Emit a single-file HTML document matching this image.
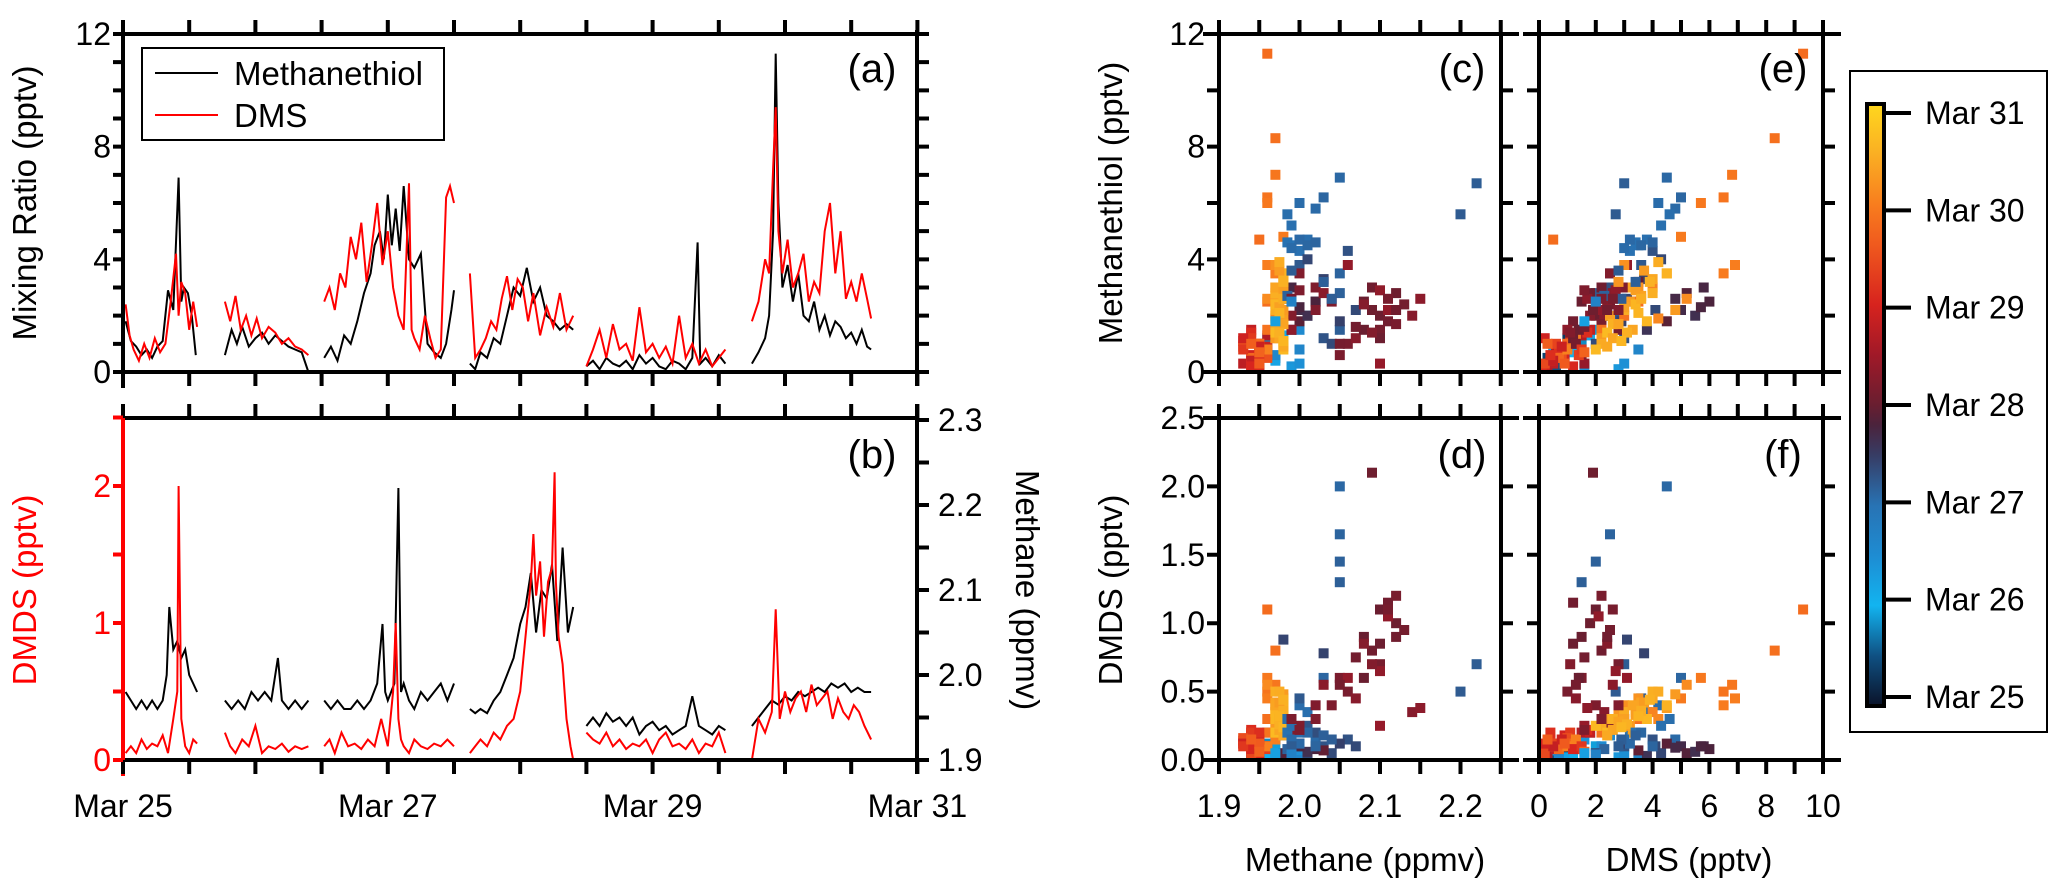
<!DOCTYPE html>
<html><head><meta charset="utf-8"><style>
html,body{margin:0;padding:0;background:#fff;}
svg{display:block;font-family:"Liberation Sans",sans-serif;}
</style></head><body>
<svg id="chart" width="2067" height="891" viewBox="0 0 2067 891" xmlns="http://www.w3.org/2000/svg">
<g id="g-a"></g>
<g id="g-b"></g>
<g id="g-s"></g>
<g id="g-cb"></g>
</svg>
<script>
// ---------- time series data (t = days since Mar 25) ----------
const meshT=[0.02,0.06,0.1,0.14,0.18,0.22,0.26,0.3,0.34,0.38,0.42,0.44,0.46,0.49,0.52,0.55,null,
0.77,0.82,0.86,0.9,0.95,1.0,1.05,1.1,1.15,1.2,1.25,1.3,1.35,1.4,null,
1.52,1.57,1.62,1.67,1.72,1.77,1.82,1.87,1.9,1.94,1.97,2.0,2.03,2.06,2.09,2.12,2.16,2.2,2.25,2.3,2.35,2.4,2.44,2.48,2.5,null,
2.62,2.66,2.7,2.75,2.8,2.85,2.9,2.95,3.0,3.05,3.1,3.15,3.2,3.25,3.3,3.35,3.4,null,
3.5,3.55,3.6,3.65,3.7,3.75,3.8,3.85,3.9,3.95,4.0,4.05,4.1,4.15,4.2,4.25,4.3,4.34,4.36,4.4,4.45,4.5,4.55,null,
4.75,4.8,4.85,4.88,4.91,4.93,4.95,4.98,5.02,5.06,5.1,5.14,5.18,5.22,5.26,5.3,5.34,5.38,5.42,5.46,5.5,5.54,5.58,5.62,5.65];
const meshV=[1.8,1.1,0.9,0.6,0.8,0.5,0.9,1.1,2.9,2.2,6.9,2.5,3.0,2.8,2.0,0.6,null,
0.6,1.5,1.0,1.6,0.9,1.2,1.4,1.0,1.3,1.1,0.9,0.8,0.7,0.0,null,
0.5,0.9,0.4,1.3,1.0,1.8,2.8,3.5,4.5,5.0,4.0,6.3,4.5,5.8,4.3,6.6,4.0,3.7,4.2,1.0,0.7,0.5,1.0,2.2,2.9,null,
0.3,0.1,0.7,0.5,1.2,1.0,2.0,3.0,2.7,3.7,2.5,3.0,2.0,1.8,1.5,1.7,1.5,null,
0.2,0.4,0.1,0.5,0.3,0.2,0.4,0.1,0.6,0.3,0.5,0.2,0.1,0.4,0.3,0.1,0.5,4.6,0.3,0.5,0.2,0.6,0.3,null,
0.3,0.7,1.2,2.0,5.0,11.3,6.0,3.0,3.8,2.5,3.5,2.0,1.8,2.5,1.5,2.0,1.3,1.8,1.6,1.2,1.4,1.0,1.5,0.9,0.8];
const dmsT=[0.02,0.05,0.08,0.12,0.16,0.2,0.24,0.28,0.32,0.36,0.4,0.42,0.44,0.47,0.5,0.53,0.56,null,
0.77,0.81,0.85,0.89,0.93,0.97,1.01,1.05,1.1,1.15,1.2,1.25,1.3,1.35,1.4,null,
1.52,1.56,1.6,1.64,1.68,1.72,1.76,1.8,1.84,1.88,1.92,1.96,2.0,2.04,2.08,2.12,2.16,2.18,2.2,2.24,2.28,2.32,2.36,2.4,2.44,2.47,2.5,null,
2.62,2.66,2.7,2.74,2.78,2.82,2.86,2.9,2.94,2.98,3.02,3.06,3.1,3.15,3.2,3.25,3.3,3.35,3.4,null,
3.5,3.55,3.6,3.65,3.7,3.75,3.8,3.85,3.9,3.95,4.0,4.05,4.1,4.15,4.2,4.25,4.3,4.35,4.4,4.45,4.5,4.55,null,
4.75,4.8,4.85,4.88,4.91,4.93,4.95,4.98,5.02,5.06,5.1,5.14,5.18,5.22,5.26,5.3,5.34,5.38,5.42,5.46,5.5,5.54,5.58,5.62,5.65];
const dmsV=[2.4,1.3,0.8,0.4,1.0,0.5,1.2,0.7,1.0,2.5,4.2,2.0,3.2,2.8,1.5,2.5,1.6,null,
2.5,1.8,2.7,1.5,2.0,1.3,1.9,1.2,1.6,1.4,1.0,1.2,0.9,0.8,0.6,null,
2.5,3.0,2.2,3.5,3.0,4.8,4.0,5.3,3.2,4.5,6.0,3.8,5.0,3.0,2.0,1.5,6.7,1.5,1.2,0.8,2.0,1.2,0.5,0.8,6.2,6.6,6.0,null,
3.5,0.5,0.8,1.2,1.8,1.5,2.6,3.4,2.2,3.3,3.0,1.8,2.8,1.3,2.3,1.6,2.8,1.5,2.0,null,
0.2,0.8,1.5,0.5,1.7,0.8,1.0,0.4,2.3,0.7,1.0,0.5,0.9,0.3,2.0,0.5,1.0,0.3,0.8,0.2,0.5,0.8,null,
1.8,2.5,4.0,3.5,7.2,9.4,5.0,3.5,4.7,3.0,3.5,4.2,2.5,3.2,2.8,5.0,6.0,3.5,5.0,2.6,3.2,2.5,3.5,2.6,1.9];
const dmdsT=[0.02,0.06,0.1,0.14,0.18,0.22,0.26,0.3,0.34,0.38,0.41,0.42,0.44,0.47,0.5,0.53,0.56,null,
0.77,0.81,0.85,0.9,0.95,1.0,1.05,1.1,1.15,1.2,1.25,1.3,1.35,1.4,null,
1.52,1.56,1.6,1.65,1.7,1.75,1.8,1.85,1.9,1.95,2.0,2.04,2.06,2.08,2.1,2.12,2.16,2.2,2.25,2.3,2.35,2.4,2.45,2.5,null,
2.62,2.66,2.7,2.75,2.8,2.85,2.9,2.95,3.0,3.04,3.08,3.1,3.12,3.15,3.18,3.21,3.24,3.26,3.27,3.29,3.32,3.35,3.38,3.4,null,
3.5,3.55,3.6,3.65,3.7,3.75,3.8,3.85,3.9,3.95,4.0,4.05,4.1,4.15,4.2,4.25,4.3,4.35,4.4,4.45,4.5,4.55,null,
4.75,4.8,4.85,4.9,4.93,4.96,5.0,5.04,5.08,5.12,5.16,5.2,5.24,5.28,5.32,5.36,5.4,5.44,5.48,5.52,5.56,5.6,5.65];
const dmdsV=[0.05,0.1,0.05,0.15,0.08,0.12,0.1,0.18,0.05,0.3,0.5,2.0,0.3,0.1,0.05,0.15,0.12,null,
0.2,0.1,0.05,0.15,0.1,0.25,0.05,0.1,0.08,0.12,0.06,0.1,0.08,0.1,null,
0.1,0.15,0.05,0.2,0.1,0.12,0.08,0.15,0.1,0.3,0.1,0.5,1.0,0.3,0.15,0.1,0.05,0.15,0.1,0.08,0.12,0.1,0.15,0.1,null,
0.05,0.1,0.15,0.1,0.2,0.15,0.25,0.3,0.5,0.9,1.3,1.65,1.2,1.45,0.9,1.3,1.4,2.1,1.3,0.9,0.7,0.3,0.1,0.0,null,
0.2,0.15,0.12,0.2,0.1,0.15,0.08,0.12,0.1,0.15,0.05,0.15,0.2,0.1,0.12,0.08,0.15,0.05,0.12,0.1,0.2,0.05,null,
0.0,0.3,0.2,0.35,1.1,0.3,0.5,0.35,0.45,0.5,0.35,0.55,0.4,0.45,0.5,0.3,0.45,0.35,0.3,0.4,0.35,0.25,0.15];
const ch4T=[0.02,0.06,0.1,0.14,0.18,0.22,0.26,0.3,0.33,0.35,0.38,0.41,0.44,0.47,0.5,0.53,0.56,null,
0.77,0.82,0.87,0.92,0.97,1.02,1.07,1.12,1.17,1.2,1.25,1.3,1.35,1.4,null,
1.52,1.57,1.62,1.67,1.72,1.77,1.82,1.87,1.92,1.96,1.98,2.0,2.05,2.08,2.1,2.12,2.16,2.2,2.25,2.3,2.35,2.4,2.45,2.5,null,
2.62,2.66,2.7,2.75,2.8,2.85,2.9,2.95,3.0,3.04,3.08,3.12,3.16,3.2,3.24,3.28,3.32,3.36,3.4,null,
3.5,3.55,3.6,3.65,3.7,3.75,3.8,3.85,3.9,3.95,4.0,4.05,4.1,4.15,4.2,4.25,4.3,4.35,4.4,4.45,4.5,4.55,null,
4.75,4.8,4.85,4.9,4.95,5.0,5.05,5.1,5.15,5.2,5.25,5.3,5.35,5.4,5.45,5.5,5.55,5.6,5.65];
const ch4V=[1.98,1.97,1.96,1.97,1.96,1.97,1.96,1.97,2.0,2.08,2.03,2.04,2.02,2.03,2.0,1.99,1.98,null,
1.97,1.96,1.97,1.96,1.98,1.97,1.98,1.97,2.02,1.97,1.96,1.97,1.96,1.97,null,
1.97,1.96,1.97,1.96,1.96,1.97,1.96,1.97,1.99,2.06,1.98,1.97,1.99,2.22,1.98,1.99,1.97,1.96,1.98,1.97,1.98,1.99,1.97,1.99,null,
1.96,1.955,1.96,1.955,1.97,1.98,2.0,2.02,2.06,2.08,2.12,2.05,2.1,2.09,2.13,2.04,2.15,2.05,2.08,null,
1.94,1.95,1.94,1.955,1.945,1.95,1.94,1.95,1.93,1.94,1.945,1.935,1.94,1.93,1.935,1.94,1.975,1.94,1.935,1.93,1.94,1.935,null,
1.94,1.95,1.96,1.97,1.965,1.975,1.97,1.98,1.975,1.98,1.985,1.98,1.99,1.985,1.99,1.98,1.985,1.98,1.98];
const dayTicks=["Mar 25","Mar 27","Mar 29","Mar 31"];
const ticksA=[0,4,8,12];
const ticksDMDS=[0,1,2];
const ticksCH4=[1.9,2.0,2.1,2.2,2.3];

const NS="http://www.w3.org/2000/svg";
const FT=32;
function mk(tag,attrs,parent){const e=document.createElementNS(NS,tag);for(const k in attrs)e.setAttribute(k,attrs[k]);parent.appendChild(e);return e;}
function txt(s,x,y,size,anchor,parent,fill,rot){const e=mk('text',{x:x,y:y,'font-size':size,'text-anchor':anchor,fill:fill||'#000'},parent);if(rot!==undefined)e.setAttribute('transform','rotate('+rot+' '+x+' '+y+')');e.textContent=s;return e;}

const TX0=123,TXD=132.4;
const tx=t=>TX0+TXD*t;
const ya=v=>372-v*(338/12);
const yb=v=>760-137*v;
const ym=m=>760-(m-1.9)*850;
const XR=917;

function pathFrom(T,V,xf,yf){let d='',pen=false;for(let i=0;i<T.length;i++){if(T[i]===null||V[i]===null){pen=false;continue;}d+=(pen?'L':'M')+xf(T[i]).toFixed(1)+' '+yf(V[i]).toFixed(1);pen=true;}return d;}

// ---------- panel a ----------
const ga=document.getElementById('g-a');
let p=mk('path',{d:pathFrom(meshT,meshV,tx,ya),fill:'none',stroke:'#000','stroke-width':2},ga);

p=mk('path',{d:pathFrom(dmsT,dmsV,tx,ya),fill:'none',stroke:'#f00','stroke-width':2},ga);

mk('path',{d:`M${TX0} 34H${XR}M${TX0} 372H${XR+12}M${TX0} 30V388M${XR} 30V386`,stroke:'#000','stroke-width':4,fill:'none'},ga);
let tk='';
for(let h=0;h<=12;h++){const x=tx(h/2);tk+=`M${x} 34V20M${x} 372V386`;}
for(let v=0;v<=12;v++){tk+=`M${TX0} ${ya(v)}H${TX0-10}M${XR} ${ya(v)}H${XR+12}`;}
mk('path',{d:tk,stroke:'#000','stroke-width':4},ga);
ticksA.forEach(v=>{const t=txt(String(v),TX0-12,ya(v)+11,FT,'end',ga);});
let ttl=txt('Mixing Ratio (pptv)',36,203,33,'middle',ga,'#000',-90);

let lab=txt('(a)',872,82,40,'middle',ga);
const lg=mk('g',{},ga);
mk('rect',{x:142,y:48,width:302,height:92,fill:'#fff',stroke:'#000','stroke-width':2},lg);
let le=mk('line',{x1:155,y1:73,x2:218,y2:73,stroke:'#000','stroke-width':2},lg);
le=txt('Methanethiol',234,85,33,'start',lg);
le=mk('line',{x1:155,y1:115,x2:218,y2:115,stroke:'#f00','stroke-width':2},lg);
le=txt('DMS',234,127,33,'start',lg);

// ---------- panel b ----------
const gb=document.getElementById('g-b');
p=mk('path',{d:pathFrom(ch4T,ch4V,tx,ym),fill:'none',stroke:'#000','stroke-width':2},gb);

p=mk('path',{d:pathFrom(dmdsT,dmdsV,tx,yb),fill:'none',stroke:'#f00','stroke-width':2},gb);

mk('path',{d:`M${TX0} 418H${XR}M${TX0} 760H${XR+12}M${XR} 404V774`,stroke:'#000','stroke-width':4,fill:'none'},gb);
mk('path',{d:`M${TX0} 418V776`,stroke:'#f00','stroke-width':4},gb);
tk='';
for(let h=0;h<=12;h++){const x=tx(h/2);tk+=`M${x} 418V404M${x} 760V774`;}
for(let m=0;m<=8;m++){tk+=`M${XR} ${ym(1.9+m*0.05)}H${XR+12}`;}
mk('path',{d:tk,stroke:'#000','stroke-width':4},gb);
tk='';for(let v=0;v<=5;v++){tk+=`M${TX0} ${yb(v/2)}H${TX0-10}`;}
mk('path',{d:tk,stroke:'#f00','stroke-width':4},gb);
ticksDMDS.forEach(v=>{const t=txt(String(v),TX0-12,yb(v)+11,FT,'end',gb,'#f00');});
ticksCH4.forEach(v=>{const t=txt(v.toFixed(1),938,ym(v)+11,FT,'start',gb);});
dayTicks.forEach((s,i)=>{const t=txt(s,tx(i*2),817,FT,'middle',gb);});
ttl=txt('DMDS (pptv)',36,590,33,'middle',gb,'#f00',-90);
ttl=txt('Methane (ppmv)',1016,590,33,'middle',gb,'#000',90);
lab=txt('(b)',872,468,40,'middle',gb);
</script>
<script>
// ---------- scatter data: one record per observation ----------
const sDay=[0.1,0.2,0.3,0.4,0.5,0.8,0.9,1.0,1.1,1.2,1.3,1.4,1.5,1.55,1.6,1.35,1.45,1.65,
2.0,2.02,2.04,2.06,2.08,2.1,2.12,2.14,2.16,2.18,2.2,2.22,2.24,2.26,2.28,2.3,2.32,2.34,2.36,2.38,2.4,2.42,2.44,2.46,
2.6,2.7,2.75,2.8,2.85,2.9,2.95,2.65,2.72,2.78,
3.0,3.02,3.04,3.06,3.08,3.1,3.12,3.14,3.16,3.18,3.2,3.22,3.24,3.26,3.28,3.3,3.32,3.34,3.36,3.38,3.4,3.05,3.15,3.25,3.35,
3.5,3.55,3.6,3.65,3.7,3.75,3.8,3.85,3.9,3.95,4.0,4.05,4.1,4.15,4.2,4.25,4.3,4.35,4.4,4.45,4.5,
4.75,4.78,4.8,4.82,4.84,4.85,4.86,4.88,4.9,4.92,4.94,4.96,4.98,5.0,5.02,5.04,5.06,
5.1,5.15,5.2,5.22,5.25,5.28,5.3,5.32,5.35,5.38,5.4,5.42,5.45,5.48,5.5,5.52,5.55,5.58,5.6,5.62,5.64,5.3,5.4,
5.31,5.33,5.36,5.39,5.41,5.44,5.47,5.49,5.51,5.53,5.56,5.59,
2.01,2.03,2.05,2.07,2.09,2.11,2.13,2.15,2.17,2.19,2.21,
3.01,3.03,3.07,3.09,3.11,3.13,3.17,3.19,3.21,3.23,
3.82,3.88,3.92,4.02,4.12,4.22,4.6,4.65,4.7,1.25,1.7];
const sCH4=[1.94,1.95,1.96,1.97,1.95,1.96,1.97,1.96,1.98,1.97,1.95,1.99,1.98,2.0,1.97,1.99,2.0,2.0,
1.99,2.0,2.01,2.0,2.02,2.05,2.03,2.05,2.05,2.05,2.22,2.2,2.0,2.01,2.03,2.06,1.99,2.02,2.04,2.07,2.01,1.98,2.03,2.05,
1.99,2.0,1.99,2.02,1.98,2.0,2.03,2.01,1.99,2.0,
2.08,2.1,2.12,2.09,2.11,2.13,2.1,2.06,2.05,2.04,2.02,2.0,1.99,2.14,2.07,2.03,2.15,1.99,2.11,2.06,2.1,2.09,2.12,2.08,2.1,
1.94,1.95,1.94,1.96,1.95,1.93,1.94,1.96,1.95,1.94,1.93,1.95,1.94,1.96,1.95,1.94,1.96,1.95,1.94,1.93,1.96,
1.94,1.95,1.96,1.95,1.96,1.97,1.97,1.96,1.96,1.97,1.96,1.98,1.97,1.96,1.97,1.96,1.97,
1.97,1.96,1.97,1.98,1.98,1.97,1.97,1.98,1.98,1.97,1.97,1.98,1.98,1.97,1.97,1.98,1.98,1.97,1.97,1.98,1.97,1.98,1.97,
1.975,1.98,1.975,1.98,1.975,1.98,1.975,1.98,1.975,1.98,1.975,1.98,
1.985,1.99,1.985,1.99,2.0,2.01,2.02,1.985,2.03,2.04,1.99,
2.08,2.1,2.12,2.07,2.05,2.11,1.99,2.0,2.02,2.09,
1.94,1.95,1.93,1.94,1.95,1.93,1.95,1.94,1.95,1.97,1.99];
const sMeSH=[0.3,0.8,1.2,0.5,0.2,1.0,1.5,0.7,1.3,0.4,0.9,0.2,2.0,1.5,0.6,0.1,0.3,0.8,
4.5,4.3,4.7,6.0,5.8,6.9,6.2,3.5,2.8,1.5,6.7,5.6,3.8,2.0,1.2,4.3,3.0,2.5,1.0,2.2,4.0,2.6,3.3,1.8,
1.5,2.2,3.0,2.5,2.8,1.8,3.2,2.0,2.6,2.3,
2.5,2.0,2.8,3.0,1.8,2.4,1.5,1.0,0.6,2.5,3.0,3.5,2.0,2.0,1.2,2.8,2.6,1.5,2.2,3.8,0.3,2.2,1.7,2.4,2.9,
0.5,1.0,0.2,1.3,0.7,0.3,1.5,0.9,0.1,0.6,1.1,0.0,1.4,0.8,0.4,1.2,0.6,1.0,0.3,0.9,0.5,
0.5,1.0,11.3,4.7,2.5,8.3,2.0,1.5,6.2,7.0,6.0,4.8,3.5,3.8,1.2,0.8,3.0,
1.9,2.6,3.8,3.0,3.2,1.2,2.5,3.5,2.0,2.7,1.5,3.3,1.0,2.2,2.8,1.7,3.5,2.4,1.8,0.8,1.4,2.2,3.0,
3.6,2.9,2.3,1.7,1.2,0.9,3.9,2.6,1.4,3.2,2.1,1.1,
4.6,5.2,5.6,4.4,4.7,4.5,4.6,2.7,3.2,2.6,3.6,
1.5,1.2,2.2,1.6,1.0,2.6,2.6,2.9,2.2,1.4,
0.4,0.9,1.2,0.2,0.6,0.8,0.3,1.0,0.7,1.8,2.5];
const sDMS=[0.4,0.8,1.0,0.3,0.6,1.5,2.0,1.2,1.8,0.9,0.5,1.6,2.5,2.2,0.7,2.8,3.0,3.5,
3.5,3.2,3.8,4.2,4.8,4.5,5.0,2.5,2.0,1.5,3.0,2.7,3.6,2.8,3.0,4.0,2.5,3.3,2.0,4.1,4.3,3.1,3.7,2.9,
3.8,5.0,5.8,6.0,5.2,4.5,3.5,5.5,4.8,5.7,
1.5,2.0,1.8,2.2,1.2,2.5,2.8,1.0,1.5,2.0,3.0,2.5,1.8,2.3,1.3,2.6,1.7,1.0,2.1,3.1,1.6,1.9,2.2,2.4,2.7,
0.8,1.2,0.3,1.5,0.6,0.5,1.8,1.0,0.2,0.9,1.3,0.1,1.7,0.7,0.4,1.1,1.4,0.6,0.2,1.0,0.8,
0.7,1.0,9.3,0.5,3.5,8.3,3.0,2.2,6.5,6.8,5.7,5.0,6.5,6.9,1.3,1.0,4.0,
4.2,5.2,3.0,3.5,2.8,2.2,3.2,4.5,2.5,3.6,3.3,4.0,2.2,3.0,4.0,2.6,4.5,3.4,3.8,2.0,2.4,4.8,3.3,
3.7,3.4,3.0,2.8,2.6,2.4,4.2,3.6,3.1,3.9,3.5,2.9,
3.4,4.3,4.6,3.0,3.2,3.6,4.0,2.3,3.4,2.9,2.8,
1.4,1.2,2.4,1.6,1.3,2.6,2.2,1.6,2.8,1.1,
0.5,0.8,0.2,1.2,0.4,1.5,0.9,0.3,1.6,1.6,2.0];
const sDMDS=[0.05,0.1,0.08,0.15,0.03,0.12,0.1,0.05,0.2,0.02,0.07,0.15,0.18,0.1,0.04,0.02,0.05,0.0,
0.3,0.2,0.35,0.4,0.15,2.0,0.6,1.65,1.45,1.3,0.7,0.5,0.45,0.25,0.1,0.15,0.3,0.2,0.05,0.1,0.05,0.88,0.78,0.12,
0.03,0.1,0.1,0.08,0.05,0.12,0.07,0.06,0.09,0.1,
0.9,1.1,1.0,0.8,1.15,0.95,0.7,0.5,0.6,0.4,0.3,0.25,0.2,0.35,0.45,0.55,0.38,0.15,1.05,0.6,0.25,2.1,1.2,0.85,0.65,
0.1,0.15,0.05,0.2,0.08,0.12,0.2,0.1,0.05,0.18,0.14,0.0,0.22,0.1,0.15,0.2,0.08,0.12,0.05,0.16,0.1,
0.08,0.12,1.1,0.1,0.3,0.8,0.25,0.2,0.5,0.55,0.6,0.45,0.4,0.45,0.15,0.1,0.35,
0.3,0.55,0.4,0.45,0.35,0.3,0.25,0.38,0.3,0.42,0.2,0.45,0.25,0.35,0.5,0.3,0.4,0.35,0.3,0.25,0.2,0.48,0.4,
0.42,0.33,0.3,0.28,0.22,0.18,0.5,0.36,0.26,0.44,0.32,0.24,
0.2,0.25,0.3,0.15,0.12,0.2,0.1,0.08,0.18,0.15,0.1,
0.6,0.85,0.9,0.75,0.55,1.1,0.3,0.22,0.4,0.7,
0.1,0.15,0.12,0.08,0.2,0.1,0.12,0.15,0.06,0.05,0.04];
const colorbarLabels=["Mar 25","Mar 26","Mar 27","Mar 28","Mar 29","Mar 30","Mar 31"];
const ticksC=[1.9,2.0,2.1,2.2];
const ticksE=[0,2,4,6,8,10];
const ticksY12=[0,4,8,12];
const ticksY25=[0.0,0.5,1.0,1.5,2.0,2.5];

const NS2="http://www.w3.org/2000/svg";
const FT2=32;
function mk2(tag,attrs,parent){const e=document.createElementNS(NS2,tag);for(const k in attrs)e.setAttribute(k,attrs[k]);parent.appendChild(e);return e;}
function tx2(s,x,y,size,anchor,parent,rot){const e=mk2('text',{x:x,y:y,'font-size':size,'text-anchor':anchor,fill:'#000'},parent);if(rot!==undefined)e.setAttribute('transform','rotate('+rot+' '+x+' '+y+')');e.textContent=s;return e;}

const stops=[[0,[10,18,40]],[0.5,[15,80,130]],[1.0,[18,180,240]],[1.5,[30,140,210]],[2.0,[40,115,180]],[2.5,[55,60,100]],[2.8,[75,35,60]],[3.0,[105,30,48]],[3.5,[160,25,40]],[4.0,[215,35,30]],[4.6,[240,90,30]],[5.0,[248,125,30]],[5.5,[250,175,35]],[6.0,[255,215,30]]];
function cmap(d){for(let i=1;i<stops.length;i++){if(d<=stops[i][0]){const a=stops[i-1],b=stops[i],f=(d-a[0])/(b[0]-a[0]);const c=a[1].map((v,k)=>Math.round(v+(b[1][k]-v)*f));return `rgb(${c[0]},${c[1]},${c[2]})`;}}return 'rgb(255,215,30)';}

const gs=document.getElementById('g-s');
const CX0=1219,CX1=1501,EX0=1539,EX1=1823,YT1=34,YB1=372,YT2=418,YB2=760;
const xc=m=>CX0+(m-1.9)*805;
const xe=v=>EX0+v*28.4;
const y12=v=>YB1-v*(YB1-YT1)/12;
const y25=v=>YB2-v*(YB2-YT2)/2.5;

const panels=[
 {id:'c',x0:CX0,x1:CX1,yt:YT1,yb:YB1,xs:xc,ys:y12,xv:sCH4,yv:sMeSH,lab:'(c)',lx:1462},
 {id:'e',x0:EX0,x1:EX1,yt:YT1,yb:YB1,xs:xe,ys:y12,xv:sDMS,yv:sMeSH,lab:'(e)',lx:1783},
 {id:'d',x0:CX0,x1:CX1,yt:YT2,yb:YB2,xs:xc,ys:y25,xv:sCH4,yv:sDMDS,lab:'(d)',lx:1462},
 {id:'f',x0:EX0,x1:EX1,yt:YT2,yb:YB2,xs:xe,ys:y25,xv:sDMS,yv:sDMDS,lab:'(f)',lx:1783}];
panels.forEach(P=>{
  const g=mk2('g',{},gs);
  
  
  const clipId='clip'+P.id;
  const cp=mk2('clipPath',{id:clipId},g);mk2('rect',{x:P.x0,y:P.yt-6,width:P.x1-P.x0+6,height:P.yb-P.yt+6},cp);
  const pts=mk2('g',{'clip-path':'url(#'+clipId+')'},g);
  for(let i=0;i<sDay.length;i++){
    const r=mk2('rect',{x:(P.xs(P.xv[i])-5).toFixed(1),y:(P.ys(P.yv[i])-5).toFixed(1),width:10,height:10,fill:cmap(sDay[i])},pts);
    
    
  }
  let d=`M${P.x0-16} ${P.yt}H${P.x1+18}M${P.x0-16} ${P.yb}H${P.x1+18}M${P.x0} ${P.yt}V${P.yb+14}M${P.x1} ${P.yt}V${P.yb}`;
  mk2('path',{d:d,stroke:'#000','stroke-width':4,fill:'none'},g);
  let tk='';
  const nxs=P.id==='c'||P.id==='d'?[1.9,1.95,2.0,2.05,2.1,2.15,2.2,2.25]:[0,1,2,3,4,5,6,7,8,9,10];
  nxs.forEach(v=>{const x=P.xs(v);tk+=`M${x} ${P.yt}V${P.yt-14}M${x} ${P.yb}V${P.yb+14}`;});
  const ny=P.yt===YT1?[0,2,4,6,8,10,12]:[0,0.5,1,1.5,2,2.5];
  ny.forEach(v=>{const y=P.ys(v);tk+=`M${P.x0} ${y}H${P.x0-12}M${P.x1} ${y}H${P.x1+12}`;});
  mk2('path',{d:tk,stroke:'#000','stroke-width':4},g);
  const l=tx2(P.lab,P.lx,P.yt===YT1?82:468,40,'middle',g);
  
  
});
ticksY12.forEach(v=>{const t=tx2(String(v),1205,y12(v)+11,FT2,'end',gs);});
ticksY25.forEach(v=>{const t=tx2(v.toFixed(1),1205,y25(v)+11,FT2,'end',gs);});
ticksC.forEach(v=>{const t=tx2(v.toFixed(1),xc(v),817,FT2,'middle',gs);});
ticksE.forEach(v=>{const t=tx2(String(v),xe(v),817,FT2,'middle',gs);});
let tt=tx2('Methane (ppmv)',1365,871,33,'middle',gs);
tt=tx2('DMS (pptv)',1689,871,33,'middle',gs);
tt=tx2('Methanethiol (pptv)',1122,203,33,'middle',gs,-90);
tt=tx2('DMDS (pptv)',1122,590,33,'middle',gs,-90);

// ---------- colorbar ----------
const gc=document.getElementById('g-cb');
mk2('rect',{x:1850,y:71,width:197,height:661,fill:'#fff',stroke:'#000','stroke-width':2},gc);
const defs=mk2('defs',{},gc);
const lgr=mk2('linearGradient',{id:'cbgrad',x1:0,y1:1,x2:0,y2:0},defs);
stops.forEach(s=>{mk2('stop',{offset:(s[0]/6).toFixed(3),'stop-color':`rgb(${s[1].join(',')})`},lgr);});
const CBT=113,CBB=697;
const cb=mk2('rect',{x:1867,y:CBT-9,width:17,height:CBB-CBT+18,fill:'url(#cbgrad)',stroke:'#000','stroke-width':4},gc);

colorbarLabels.forEach((s,i)=>{const y=CBB-i*(CBB-CBT)/6;mk2('line',{x1:1884,y1:y,x2:1911,y2:y,stroke:'#000','stroke-width':4},gc);
 const t=tx2(s,1925,y+11,FT2,'start',gc);});
</script>
</body></html>
